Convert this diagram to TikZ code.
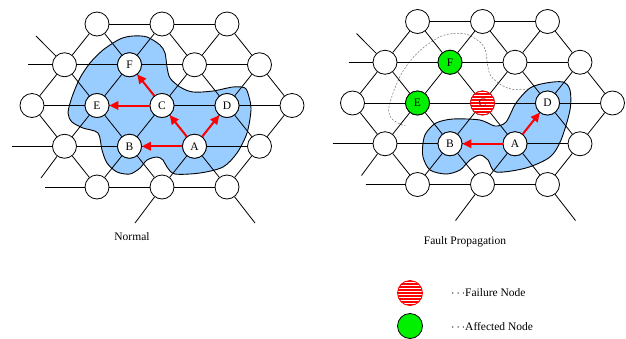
\documentclass[tikz,border=0pt]{standalone}
\usepackage{fontspec}
\setmainfont{Liberation Serif}
\usetikzlibrary{arrows.meta}

\definecolor{regionblue}{RGB}{153,204,255}
\definecolor{affgreen}{RGB}{0,240,0}

\pgfdeclarelayer{regions}
\pgfdeclarelayer{mesh}
\pgfsetlayers{regions,mesh,main}

\tikzset{
  netnode/.style={circle,draw,fill=white,line width=0.8pt,minimum size=24pt,
    inner sep=0pt,font=\fontsize{11.5}{13}\selectfont},
  link/.style={line width=0.8pt},
  region/.style={fill=regionblue,draw=black,line width=0.9pt},
  oldregion/.style={draw=black!55,line width=0.5pt,dash pattern=on 2pt off 1.5pt},
  flow/.style={red,line width=2pt,-{Triangle[length=9pt,width=8.5pt]}},
  failed/.style={draw=red,fill=white,text=red!55!black,
    path picture={
      \foreach \k in {-6,...,6}
        \draw[red,line width=1.3pt]
          ([xshift=-16pt,yshift=\k*3pt]path picture bounding box.center)
          -- ++(32pt,0pt);
    }},
  affected/.style={fill=affgreen},
  caption/.style={font=\fontsize{11.5}{13}\selectfont},
}

% hexagonal mesh: empty nodes named <prefix><row><col>, links on the mesh layer
\newcommand\meshgrid[1]{%
  \foreach \r/\cols in {1/{3,5,7},2/{2,4,6,8},3/{1,3,5,7,9},4/{2,4,6,8},5/{3,5,7}}{
    \foreach \c in \cols {
      \node[netnode] (#1\r\c) at ({32+(\c-1)*32.5},{24+(\r-1)*40.75}) {};
    }
  }
  \coordinate (#1w2) at (28,64.75);
  \coordinate (#1w4) at (12,146.25);
  \coordinate (#1w5) at (45,187);
  \coordinate (#1nw) at (36,36);
  \coordinate (#1sw) at (41,178);
  \coordinate (#1s5) at (135,223);
  \coordinate (#1s7) at (255,223);
  \begin{pgfonlayer}{mesh}
    \foreach \a/\b in {13/15,15/17,22/24,24/26,26/28,31/33,33/35,35/37,37/39,
        42/44,44/46,46/48,53/55,55/57,
        13/22,13/24,15/24,15/26,17/26,17/28,
        22/31,22/33,24/33,24/35,26/35,26/37,28/37,28/39,
        31/42,33/42,33/44,35/44,35/46,37/46,37/48,39/48,
        42/53,44/53,44/55,46/55,46/57,48/57}
      \draw[link] (#1\a) -- (#1\b);
    \draw[link] (#1w2) -- (#122);
    \draw[link] (#1w4) -- (#142);
    \draw[link] (#1w5) -- (#153);
    \draw[link] (#1nw) -- (#122);
    \draw[link] (#1sw) -- (#142);
    \draw[link] (#1s5) -- (#155);
    \draw[link] (#1s7) -- (#157);
  \end{pgfonlayer}
}

\begin{document}
\begin{tikzpicture}[x=1pt,y=-1pt]
\useasboundingbox (0,0) rectangle (626,338);

% ---------- normal operation ----------
\begin{pgfonlayer}{regions}
  \draw[region] plot[smooth cycle] coordinates {
    (120,39) (133,36) (147,37) (160,45) (165,53) (167,67) (170,78) (180,87)
    (193,92) (213,91) (233,87) (245,88) (249,97) (251,110) (247,133) (237,153)
    (223,167) (200,173) (175,174) (167,167) (163,160) (157,157) (147,160)
    (140,168) (130,174) (117,172) (107,163) (102,150) (98,133) (83,128)
    (72,122) (68,113) (72,97) (80,78) (90,63) (103,50)};
\end{pgfonlayer}
\meshgrid{L}
\node[netnode] (LF) at (129.5,64.75) {F};
\node[netnode] (LE) at (97,105.5) {E};
\node[netnode] (LC) at (162,105.5) {C};
\node[netnode] (LD) at (227,105.5) {D};
\node[netnode] (LB) at (129.5,146.25) {B};
\node[netnode] (LA) at (194.5,146.25) {A};
\draw[flow] (LC) -- (LF);
\draw[flow] (LC) -- (LE);
\draw[flow] (LA) -- (LC);
\draw[flow] (LA) -- (LD);
\draw[flow] (LA) -- (LB);
\node[caption] (normal) at (132,237) {Normal};

% ---------- fault propagation ----------
\begin{scope}[shift={(320.5,-2.5)}]
  \begin{pgfonlayer}{regions}
    \begin{scope}
      \clip (0,0) rectangle (214.5,127.5);
      \draw[oldregion] plot[smooth cycle] coordinates {
        (120,39) (133,36) (147,37) (160,45) (165,53) (167,67) (170,78) (180,87)
        (193,92) (213,91) (233,87) (245,88) (249,97) (251,110) (247,133) (237,153)
        (223,167) (200,173) (175,174) (167,167) (163,160) (157,157) (147,160)
        (140,168) (130,174) (117,172) (107,163) (102,150) (98,133) (83,128)
        (72,122) (68,113) (72,97) (80,78) (90,63) (103,50)};
    \end{scope}
  \end{pgfonlayer}
  \meshgrid{R}
  \node[netnode,affected] (RF) at (129.5,64.75) {F};
  \node[netnode,affected] (RE) at (97,105.5) {E};
  \node[netnode,failed] (RC) at (162,105.5) {C};
  \node[netnode] (RD) at (227,105.5) {D};
  \node[netnode] (RB) at (129.5,146.25) {B};
  \node[netnode] (RA) at (194.5,146.25) {A};
  \draw[flow] (RA) -- (RB);
  \draw[flow] (RA) -- (RD);
\end{scope}
\begin{pgfonlayer}{regions}
  \draw[region] plot[smooth cycle] coordinates {
    (423,143) (426,133) (436,123) (453,119) (480,120) (495,126) (506,122)
    (516,103) (530,88) (546,83) (563,82) (570,90) (570,110) (561,140)
    (550,157) (526,168) (496,172) (488,160) (480,155) (470,160) (460,170)
    (446,174) (430,170) (423,157)};
\end{pgfonlayer}
\node[caption] (fault) at (465,242) {Fault Propagation};

% ---------- legend ----------
\node[netnode,failed,minimum size=25pt] (kfail) at (410,293) {};
\node[netnode,affected,minimum size=25pt] (kaff) at (410,326) {};
\node[caption,anchor=west,inner sep=0pt] (tfail) at (451,293) {$\cdots$Failure Node};
\node[caption,anchor=west,inner sep=0pt] (taff) at (451,326) {$\cdots$Affected Node};
\end{tikzpicture}
\end{document}
